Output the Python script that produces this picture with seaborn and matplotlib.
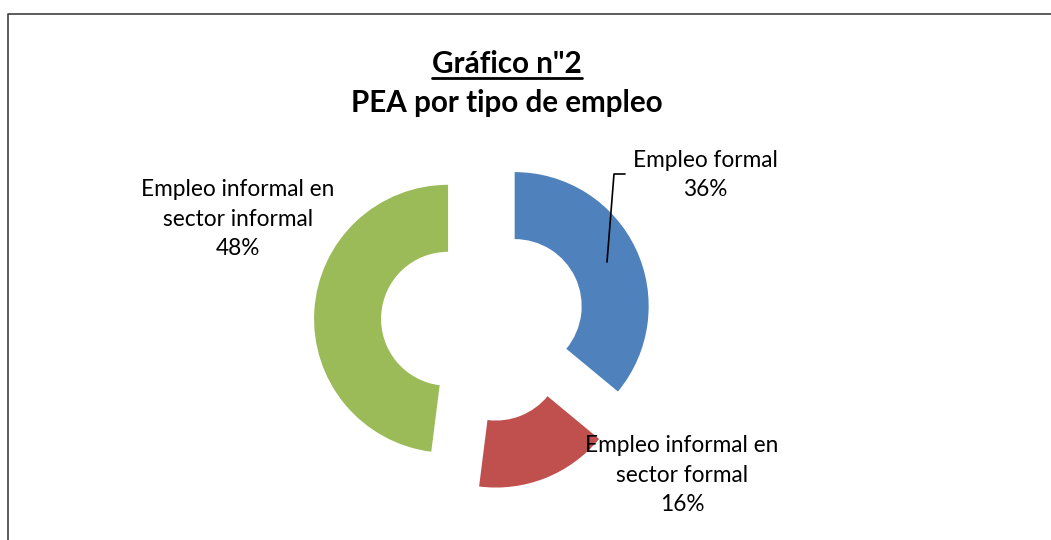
import matplotlib.pyplot as plt
import seaborn as sns
from matplotlib.lines import Line2D

sns.set_theme(style="white")
plt.rcParams['font.family'] = ['Lato', 'DejaVu Sans']
plt.rcParams['text.color'] = 'black'

# Data
categories = ['Empleo formal', 'Empleo informal en\nsector formal', 'Empleo informal en\nsector informal']
shares = [36, 16, 48]
colors = ['#4F81BD', '#C0504D', '#9BBB59']

W, H = 1051, 540
fig = plt.figure(figsize=(W / 100, H / 100), dpi=100)
ax = fig.add_axes([0, 0, 1, 1])

# donut geometry in pixel units
cx, cy, R = 483, H - 321, 134
gap = 35

wedges, _ = ax.pie(
    shares, colors=colors, startangle=90, counterclock=False,
    center=(cx, cy), radius=R, explode=[gap] * len(shares),
    wedgeprops=dict(width=R * 0.5, linewidth=0),
)
ax.set_xlim(0, W)
ax.set_ylim(0, H)
ax.set_aspect('auto')
ax.axis('off')

lab_font = dict(fontsize=16.3, ha='center', va='center', linespacing=1.5,
                color='black')
ax.text(705, H - 175, f"{categories[0]}\n{shares[0]}%", **lab_font)
ax.text(682, H - 475, f"{categories[1]}\n{shares[1]}%", **lab_font)
ax.text(238, H - 219, f"{categories[2]}\n{shares[2]}%", **lab_font)

# leader line for the formal slice
ax.plot([607, 614, 625], [H - 262, H - 174, H - 174], color='black', lw=1.2)

# title
t1 = ax.text(507, H - 64, 'Gráfico n"2', fontsize=21.3, fontweight='bold',
             ha='center', va='center', color='black')
ax.text(507, H - 103, 'PEA por tipo de empleo', fontsize=21.3, fontweight='bold',
        ha='center', va='center', color='black')

fig.canvas.draw()
bb = t1.get_window_extent(fig.canvas.get_renderer())
fig.add_artist(Line2D([bb.x0 / W, bb.x1 / W], [(H - 78) / H] * 2,
                      transform=fig.transFigure, color='black', lw=2))

# chart frame (left and top edges visible)
fig.add_artist(Line2D([8 / W, 8 / W, 1.0], [0, (H - 14) / H, (H - 14) / H],
                      transform=fig.transFigure, color='#404040', lw=1.2))

fig.savefig('out.png', dpi=100)
